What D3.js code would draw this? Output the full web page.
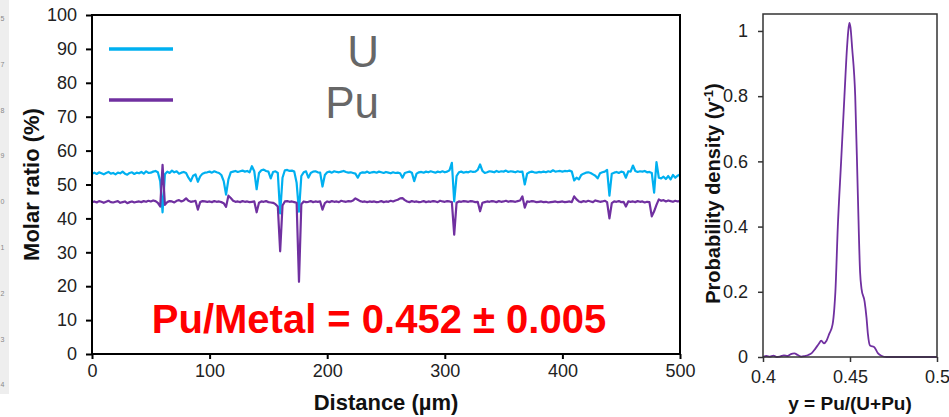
<!DOCTYPE html>
<html>
<head>
<meta charset="utf-8">
<script src="https://cdn.jsdelivr.net/npm/d3@7"></script>
<style>
  html, body { margin: 0; padding: 0; background: #fff; }
  svg { display: block; font-family: "Liberation Sans", Arial, sans-serif; }
</style>
</head>
<body>
<svg id="chart" width="949" height="417"></svg>
<script>
// ---------- Data ----------
// Line scan: distance step of 2 µm from 0 to 500 µm
const distanceStep = 2;
const uRatio = [
  53.2, 53.5, 53.1, 53.6, 53.3, 53.0, 53.4, 53.7, 53.2, 53.4,
  53.0, 53.5, 53.3, 53.8, 53.2, 52.9, 53.4, 53.6, 53.1, 53.5,
  53.3, 53.7, 53.2, 53.9, 53.4, 53.5, 53.8, 54.0, 53.6, 51.0,
  41.8, 53.0, 53.8, 53.4, 54.1, 53.6, 53.9, 53.2, 53.5, 53.7,
  53.4, 52.0, 51.0, 52.6, 53.0, 50.8, 52.4, 53.2, 53.5, 53.6,
  53.8, 53.5, 53.9, 53.6, 53.4, 52.8, 51.0, 47.0, 51.5, 53.6,
  53.8, 54.0, 53.7, 53.9, 54.1, 53.8, 54.0, 53.6, 55.4, 53.9,
  48.6, 53.4, 54.2, 54.4, 54.0, 53.8, 51.8, 53.7, 53.9, 53.4,
  41.5, 52.0, 54.2, 54.3, 54.0, 54.1, 53.8, 50.5, 42.0, 52.5,
  53.6, 53.9, 52.0, 53.4, 53.8, 53.9, 53.6, 53.5, 49.4, 52.8,
  53.6, 53.8, 53.5, 53.9, 53.7, 53.6, 53.8, 54.0, 53.7, 53.5,
  53.6, 53.4, 53.2, 52.0, 53.3, 53.6, 53.5, 53.8, 53.4, 53.6,
  53.7, 53.5, 53.8, 53.6, 53.4, 53.7, 53.5, 53.3, 53.6, 53.4,
  53.5, 53.3, 52.0, 53.4, 53.6, 53.8, 53.5, 51.0, 53.2, 53.6,
  53.7, 53.5, 53.8, 53.6, 53.9, 53.7, 53.5, 53.8, 53.6, 53.9,
  53.6, 53.8, 54.2, 56.4, 45.0, 52.5, 53.6, 53.8, 53.5, 53.7,
  53.6, 53.9, 53.7, 53.8, 54.3, 55.9, 54.0, 53.4, 53.6, 53.9,
  53.8, 53.6, 54.0, 53.7, 53.9, 53.8, 54.1, 53.7, 53.9, 53.8,
  53.6, 53.9, 53.7, 53.8, 50.0, 53.2, 53.6, 53.8, 53.6, 53.5,
  53.7, 53.6, 53.8, 53.6, 53.9, 53.7, 54.2, 53.8, 53.9, 54.0,
  53.8, 54.0, 53.9, 54.1, 53.8, 51.2, 52.0, 51.5, 52.8, 53.2,
  53.5, 53.6, 53.4, 53.0, 52.6, 51.8, 53.3, 53.6, 53.8, 54.3,
  46.7, 53.2, 53.5, 53.7, 53.4, 53.8, 53.6, 52.0, 53.9, 53.8,
  55.6, 54.0, 53.7, 53.9, 53.8, 54.0, 53.6, 53.7, 53.4, 47.6,
  56.6, 52.0, 51.8, 52.3, 51.6, 52.5, 51.5, 52.8, 52.0, 52.6, 53.0
];
const puRatio = [
  44.8, 45.0, 44.7, 45.1, 44.9, 44.6, 44.9, 45.2, 44.8, 44.7,
  44.9, 45.1, 44.6, 44.8, 45.0, 44.5, 44.8, 45.0, 44.7, 44.9,
  45.0, 44.8, 45.1, 44.9, 45.2, 45.0, 45.3, 45.1, 44.6, 43.5,
  55.8, 44.0, 44.8, 45.1, 45.0, 44.7, 45.2, 45.4, 45.0, 45.3,
  45.9, 45.2, 44.9, 45.0, 45.2, 42.6, 44.8, 45.1, 45.0, 44.9,
  45.0, 44.8, 45.1, 44.9, 45.0, 44.8, 44.5, 43.4, 46.7, 46.0,
  45.2, 44.9, 45.0, 44.8, 45.1, 44.9, 45.0, 44.8, 44.9, 45.0,
  41.8, 44.6, 45.0, 44.9, 45.1, 44.8, 44.7, 44.6, 44.2, 43.5,
  30.3, 43.8, 45.0, 45.1, 44.9, 45.0, 44.8, 44.6, 21.3, 44.2,
  45.0, 44.8, 44.9, 45.1, 44.8, 45.0, 44.9, 45.0, 42.6, 44.5,
  45.0, 44.8, 45.1, 44.9, 45.0, 44.8, 45.2, 45.0, 44.9, 45.1,
  45.0, 45.3, 45.9, 45.5, 45.1, 44.9, 45.0, 44.8, 45.0, 44.9,
  45.0, 44.8, 44.9, 45.1, 44.8, 45.0, 44.9, 45.2, 45.0, 45.3,
  45.5, 45.9, 46.0, 45.4, 45.0, 44.8, 45.1, 44.9, 45.0, 44.8,
  44.9, 45.1, 44.8, 45.0, 44.9, 45.1, 45.0, 44.8, 45.2, 45.0,
  44.9, 45.1, 45.0, 44.8, 35.2, 44.6, 45.0, 44.9, 45.1, 45.0,
  44.9, 45.1, 45.0, 44.8, 44.9, 42.1, 44.6, 44.8, 45.0, 44.9,
  45.1, 45.0, 44.8, 45.1, 44.9, 45.0, 45.2, 44.9, 45.1, 45.0,
  44.9, 45.1, 45.3, 46.5, 43.2, 45.0, 44.9, 45.1, 45.0, 44.8,
  44.9, 45.0, 44.8, 44.9, 44.7, 44.8, 44.9, 45.0, 44.8, 44.9,
  45.0, 44.8, 44.9, 45.0, 44.8, 46.5, 45.6, 45.0, 44.8, 45.1,
  44.9, 45.2, 45.0, 44.8, 45.3, 45.1, 44.9, 45.0, 45.2, 44.8,
  40.0, 44.5, 45.0, 44.9, 45.1, 44.8, 44.9, 43.5, 45.0, 44.9,
  45.0, 44.8, 45.1, 44.9, 45.0, 44.7, 44.9, 44.8, 40.6, 42.1,
  44.0, 45.6, 45.2, 45.4, 45.0, 45.3, 45.1, 44.9, 45.2, 45.0, 45.1
];
const seriesNames = ["U", "Pu"];
const xTicksLeft = [0, 100, 200, 300, 400, 500];
const yTicksLeft = [0, 10, 20, 30, 40, 50, 60, 70, 80, 90, 100];
const annotation = "Pu/Metal = 0.452 \u00B1 0.005";

// Probability density of y = Pu/(U+Pu)
const densityX = [
  0.400, 0.402, 0.404, 0.406, 0.408, 0.410, 0.412, 0.414, 0.416, 0.418,
  0.420, 0.422, 0.424, 0.426, 0.428, 0.430, 0.432, 0.4335, 0.435, 0.4365,
  0.438, 0.440, 0.441, 0.4416, 0.443, 0.4449, 0.4468, 0.4483, 0.4492, 0.4497,
  0.4503, 0.4512, 0.4530, 0.4545, 0.4558, 0.4566, 0.4584, 0.4595, 0.4603, 0.4615,
  0.4625, 0.4640, 0.4660, 0.4680, 0.4710, 0.480, 0.490, 0.500
];
const densityY = [
  0.000, 0.003, 0.001, 0.004, 0.000, 0.002, 0.005, 0.003, 0.009, 0.011,
  0.006, 0.001, 0.003, 0.006, 0.012, 0.025, 0.040, 0.050, 0.042, 0.050,
  0.070, 0.100, 0.150, 0.200, 0.400, 0.600, 0.800, 0.950, 1.010, 1.025,
  1.010, 0.950, 0.800, 0.500, 0.260, 0.210, 0.170, 0.120, 0.070, 0.035,
  0.033, 0.030, 0.012, 0.004, 0.000, 0.000, 0.000, 0.000
];
const xTicksRight = [0.4, 0.45, 0.5];
const yTicksRight = [0, 0.2, 0.4, 0.6, 0.8, 1];
const sideDigits = ["5", "7", "8", "9", "0", "1", "2", "3", "4"];

// ---------- Drawing ----------
const svg = d3.select("#chart");
const colU = "#00B0F0", colPu = "#7030A0";

// left-edge strip (screenshot artefact)
svg.append("rect").attr("x", 0).attr("y", 0).attr("width", 9).attr("height", 394).attr("fill", "#eeeeee");
svg.selectAll("text.side").data(sideDigits).join("text")
  .attr("class", "side").attr("x", 0.5).attr("y", (d, i) => 21 + i * 45.8)
  .attr("font-size", 7).attr("fill", "#888").text(d => d);

// ---- Left chart ----
const L = { left: 92, right: 680, top: 15, bottom: 354 };
const x = d3.scaleLinear().domain([0, 500]).range([L.left, L.right]);
const y = d3.scaleLinear().domain([0, 100]).range([L.bottom, L.top]);

const gL = svg.append("g");
gL.append("g").attr("transform", `translate(0,${L.bottom})`)
  .call(d3.axisBottom(x).tickValues(xTicksLeft).tickSize(5).tickSizeOuter(0).tickPadding(5))
  .call(g => g.select(".domain").remove())
  .call(g => g.selectAll("line").attr("stroke", "#000").attr("stroke-width", 2))
  .call(g => g.selectAll("text").attr("font-size", 18).attr("fill", "#222").attr("font-family", "Liberation Sans, Arial, sans-serif"));
gL.append("g").attr("transform", `translate(${L.left},0)`)
  .call(d3.axisLeft(y).tickValues(yTicksLeft).tickSize(6).tickSizeOuter(0).tickPadding(9))
  .call(g => g.select(".domain").remove())
  .call(g => g.selectAll("line").attr("stroke", "#000").attr("stroke-width", 2))
  .call(g => g.selectAll("text").attr("font-size", 18).attr("fill", "#222").attr("font-family", "Liberation Sans, Arial, sans-serif"));

const lineL = d3.line().x((d, i) => x(i * distanceStep)).y(d => y(d));
gL.append("path").datum(uRatio).attr("d", lineL)
  .attr("fill", "none").attr("stroke", colU).attr("stroke-width", 2.2).attr("stroke-linejoin", "round");
gL.append("path").datum(puRatio).attr("d", lineL)
  .attr("fill", "none").attr("stroke", colPu).attr("stroke-width", 2.2).attr("stroke-linejoin", "round");

gL.append("rect").attr("x", L.left).attr("y", L.top)
  .attr("width", L.right - L.left).attr("height", L.bottom - L.top)
  .attr("fill", "none").attr("stroke", "#000").attr("stroke-width", 2);

// legend
const legendY = [49, 100];
const legendColors = [colU, colPu];
const legendTextY = [67, 118];
seriesNames.forEach((name, i) => {
  gL.append("line").attr("x1", 109).attr("x2", 173).attr("y1", legendY[i]).attr("y2", legendY[i])
    .attr("stroke", legendColors[i]).attr("stroke-width", 3.5);
  gL.append("text").attr("x", 379).attr("y", legendTextY[i]).attr("text-anchor", "end")
    .attr("font-size", 44).attr("fill", "#676767").text(name);
});

gL.append("text").attr("x", 379).attr("y", 333).attr("text-anchor", "middle")
  .attr("font-size", 40).attr("font-weight", "bold").attr("fill", "#FF0000").text(annotation);

gL.append("text").attr("transform", `translate(39,${(L.top + L.bottom) / 2}) rotate(-90)`)
  .attr("text-anchor", "middle").attr("font-size", 22).attr("font-weight", "bold").attr("fill", "#111")
  .text("Molar ratio (%)");
gL.append("text").attr("x", (L.left + L.right) / 2).attr("y", 410).attr("text-anchor", "middle")
  .attr("font-size", 22).attr("font-weight", "bold").attr("fill", "#111").text("Distance (\u00B5m)");

// ---- Right chart ----
const R = { left: 763, right: 937, top: 14, bottom: 357 };
const xr = d3.scaleLinear().domain([0.4, 0.5]).range([R.left, R.right]);
const yr = d3.scaleLinear().domain([0, 1.052]).range([R.bottom, R.top]);
const gR = svg.append("g");

gR.append("g").attr("transform", `translate(0,${R.bottom})`)
  .call(d3.axisBottom(xr).tickValues(xTicksRight).tickFormat(d3.format("")).tickSize(5).tickSizeOuter(0).tickPadding(8))
  .call(g => g.select(".domain").remove())
  .call(g => g.selectAll("line").attr("stroke", "#333").attr("stroke-width", 1.5))
  .call(g => g.selectAll("text").attr("font-size", 18).attr("fill", "#222").attr("font-family", "Liberation Sans, Arial, sans-serif"));
gR.append("g").attr("transform", `translate(${R.left},0)`)
  .call(d3.axisLeft(yr).tickValues(yTicksRight).tickFormat(d3.format("")).tickSize(5).tickSizeOuter(0).tickPadding(10))
  .call(g => g.select(".domain").remove())
  .call(g => g.selectAll("line").attr("stroke", "#333").attr("stroke-width", 1.5))
  .call(g => g.selectAll("text").attr("font-size", 18).attr("fill", "#222").attr("font-family", "Liberation Sans, Arial, sans-serif"));

const lineR = d3.line().x((d, i) => xr(densityX[i])).y(d => yr(d)).curve(d3.curveMonotoneX);
gR.append("path").datum(densityY).attr("d", lineR)
  .attr("fill", "none").attr("stroke", colPu).attr("stroke-width", 1.8);

gR.append("rect").attr("x", R.left).attr("y", R.top)
  .attr("width", R.right - R.left).attr("height", R.bottom - R.top)
  .attr("fill", "none").attr("stroke", "#333").attr("stroke-width", 1.5);

const yl = gR.append("text").attr("transform", `translate(720,${(R.top + R.bottom) / 2 + 8}) rotate(-90)`)
  .attr("text-anchor", "middle").attr("font-size", 20).attr("font-weight", "bold").attr("fill", "#111");
yl.append("tspan").text("Probability density (y");
yl.append("tspan").attr("dy", -7).attr("font-size", 13).text("-1");
yl.append("tspan").attr("dy", 7).text(")");

gR.append("text").attr("x", (R.left + R.right) / 2).attr("y", 410).attr("text-anchor", "middle")
  .attr("font-size", 19).attr("font-weight", "bold").attr("fill", "#111").text("y = Pu/(U+Pu)");
</script>
</body>
</html>
